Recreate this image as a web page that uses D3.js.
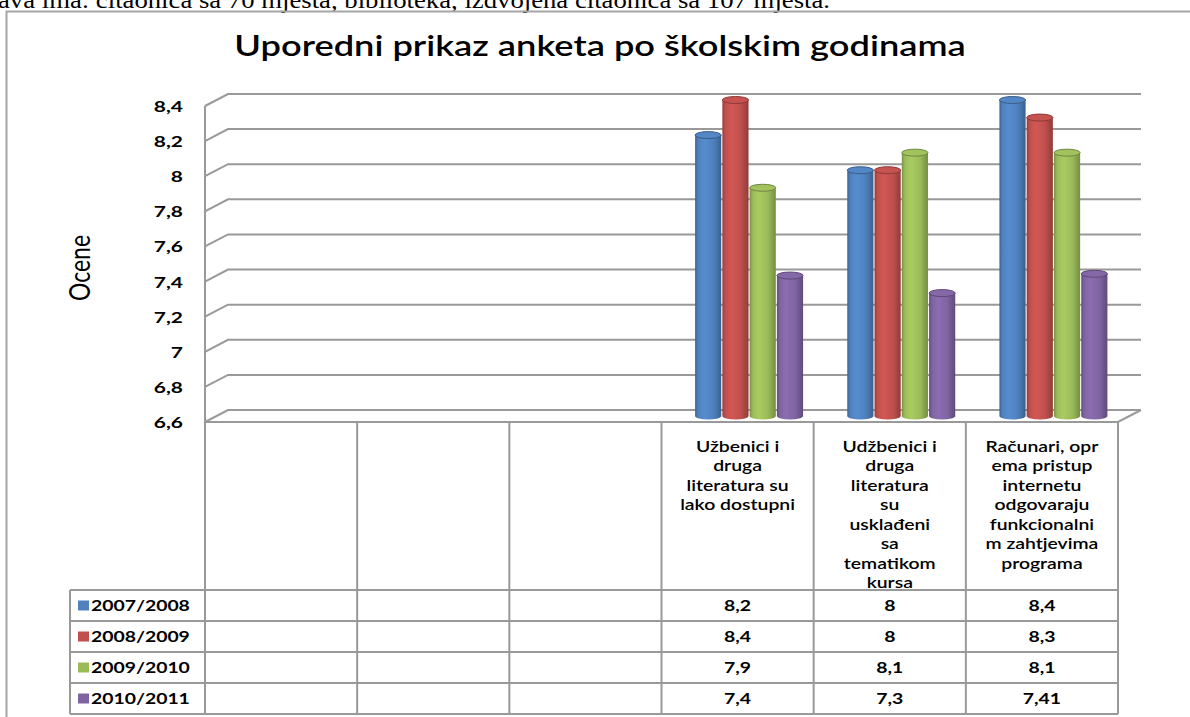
<!DOCTYPE html>
<html>
<head>
<meta charset="utf-8">
<script src="https://cdn.jsdelivr.net/npm/d3@7"></script>
<style>
  html, body { margin: 0; padding: 0; background: #fff; }
  svg { display: block; }
</style>
</head>
<body>
<script>
// Survey ratings by school year, shown as 3D-style cylinders with a data table below.
const categories = [
  "",
  "",
  "",
  "Užbenici i\ndruga\nliteratura su\nlako dostupni",
  "Udžbenici i\ndruga\nliteratura\nsu\nusklađeni\nsa\ntematikom\nkursa",
  "Računari, opr\nema pristup\ninternetu\nodgovaraju\nfunkcionalni\nm zahtjevima\nprograma"
];
const seriesNames = ["2007/2008", "2008/2009", "2009/2010", "2010/2011"];
const values2007 = [null, null, null, 8.2, 8, 8.4];
const values2008 = [null, null, null, 8.4, 8, 8.3];
const values2009 = [null, null, null, 7.9, 8.1, 8.1];
const values2010 = [null, null, null, 7.4, 7.3, 7.41];
const seriesColors = ["#4f81bd", "#c0504d", "#9bbb59", "#8064a2"];
const yTicks = [6.6, 6.8, 7, 7.2, 7.4, 7.6, 7.8, 8, 8.2, 8.4];
const titleText = "Uporedni prikaz anketa po školskim godinama";
const yAxisTitle = "Ocene";
const pageLine = "ava ima: čitaonica sa 70 mjesta, biblioteka, izdvojena čitaonica sa 107 mjesta.";

const seriesValues = [values2007, values2008, values2009, values2010];

const W = 1190, H = 717;
const svg = d3.select("body").append("svg")
  .attr("width", W).attr("height", H)
  .attr("viewBox", `0 0 ${W} ${H}`);

const locale = d3.formatLocale({ decimal: ",", thousands: ".", grouping: [3], currency: ["", ""] });
const fmt = locale.format(".2~f");

// Chart text is set in a slightly widened face
const SX = 1.25;
const FONT = "Lato, sans-serif";
function placeText(sel, x, y, sx = SX) {
  return sel.attr("transform", `translate(${x},${y}) scale(${sx},1)`);
}

// Plot geometry (front plane of the 3D box, and depth offset of the back wall)
const plotLeft = 205, plotRight = 1118, plotBottom = 422, plotTop = 106;
const DX = 23, DY = -12;
const gridColor = "#999999";

const y = d3.scaleLinear().domain([6.6, 8.4]).range([plotBottom, plotTop]);
const xCat = d3.scaleBand().domain(d3.range(categories.length)).range([plotLeft, plotRight]);
const xSer = d3.scaleBand().domain(seriesNames).range([-54, 54]).paddingInner(0.04);

const defs = svg.append("defs");

// Line of body text from the surrounding page, cut off by the top edge
svg.append("text")
  .attr("x", -2).attr("y", 8)
  .attr("font-family", "Liberation Serif, serif")
  .attr("font-size", 24)
  .attr("fill", "#000")
  .attr("textLength", 832).attr("lengthAdjust", "spacingAndGlyphs")
  .text(pageLine);

// Chart frame
svg.append("path")
  .attr("d", `M6.5,${H} L6.5,11.5 L${W},11.5`)
  .attr("fill", "none").attr("stroke", "#a6a6a6").attr("stroke-width", 2);

// Title
placeText(svg.append("text"), 600, 56)
  .attr("text-anchor", "middle")
  .attr("font-family", FONT)
  .attr("font-size", 29)
  .attr("font-weight", 600)
  .attr("fill", "#000")
  .text(titleText);

// Gridlines across side wall and back wall
const grid = svg.append("g").attr("fill", "none").attr("stroke", gridColor).attr("stroke-width", 2);
grid.selectAll("path.grid").data(yTicks).join("path")
  .attr("class", "grid")
  .attr("d", t => `M${plotLeft},${y(t)} L${plotLeft + DX},${y(t) + DY} L${plotRight + DX},${y(t) + DY}`);

// Floor front edge and right side
grid.append("path")
  .attr("d", `M${plotLeft},${plotBottom} L${plotRight},${plotBottom} L${plotRight + DX},${plotBottom + DY}`);

// Y axis labels
const yAxis = d3.axisLeft(y).tickValues(yTicks).tickFormat(fmt).tickSize(0).tickPadding(0);
const yAxisG = svg.append("g").attr("transform", `translate(${plotLeft - 22},0)`).call(yAxis);
yAxisG.select(".domain").remove();
yAxisG.selectAll(".tick text")
  .attr("x", null).attr("dy", null)
  .attr("font-family", FONT)
  .attr("font-size", 15.5)
  .attr("font-weight", 700)
  .attr("fill", "#000")
  .attr("text-anchor", "end")
  .attr("transform", `translate(0,5.5) scale(1.35,1)`);

svg.append("text")
  .attr("transform", `translate(90,268) scale(1.25,1) rotate(-90)`)
  .attr("text-anchor", "middle")
  .attr("font-family", FONT)
  .attr("font-size", 23)
  .attr("fill", "#000")
  .text(yAxisTitle);

// Cylinder shading gradients
seriesColors.forEach((c, i) => {
  const base = d3.color(c);
  const g = defs.append("linearGradient").attr("id", `cyl${i}`)
    .attr("x1", 0).attr("x2", 1).attr("y1", 0).attr("y2", 0);
  g.append("stop").attr("offset", 0).attr("stop-color", base.darker(0.7));
  g.append("stop").attr("offset", 0.12).attr("stop-color", base);
  g.append("stop").attr("offset", 0.35).attr("stop-color", base.brighter(0.25));
  g.append("stop").attr("offset", 0.7).attr("stop-color", base);
  g.append("stop").attr("offset", 1).attr("stop-color", base.darker(0.8));
});

// Bars
const bars = [];
seriesValues.forEach((vals, s) => {
  vals.forEach((v, i) => {
    if (v == null) return;
    bars.push({ s, i, v });
  });
});
const ry = 3.5;
const barG = svg.append("g");
const cyl = barG.selectAll("g.cyl").data(bars).join("g").attr("class", "cyl");
cyl.each(function (d) {
  const g = d3.select(this);
  const w = xSer.bandwidth();
  const left = xCat(d.i) + xCat.bandwidth() / 2 + DX / 2 + xSer(seriesNames[d.s]);
  const cx = left + w / 2;
  const yt = y(d.v) + DY / 2;
  const yb = y(6.6) + DY / 2;
  const col = d3.color(seriesColors[d.s]);
  g.append("path")
    .attr("d", `M${left},${yt} L${left},${yb} A${w / 2},${ry} 0 0 0 ${left + w},${yb} L${left + w},${yt} Z`)
    .attr("fill", `url(#cyl${d.s})`);
  g.append("ellipse")
    .attr("cx", cx).attr("cy", yt).attr("rx", w / 2).attr("ry", ry)
    .attr("fill", col.brighter(0.1))
    .attr("stroke", col.darker(0.9)).attr("stroke-width", 1);
});

// Data table
const rowH = 31;
const headerBottom = 590;
const tableBottom = headerBottom + rowH * seriesNames.length;
const legendLeft = 70;
const tbl = svg.append("g").attr("fill", "none").attr("stroke", gridColor).attr("stroke-width", 2);
const colEdges = d3.range(categories.length + 1).map(k => plotLeft + k * xCat.bandwidth());
tbl.selectAll("line.col").data(colEdges).join("line")
  .attr("class", "col")
  .attr("x1", d => d).attr("x2", d => d)
  .attr("y1", (d, k) => k === 0 ? y(8.4) : plotBottom).attr("y2", tableBottom);
tbl.selectAll("line.row").data(d3.range(seriesNames.length + 1)).join("line")
  .attr("class", "row")
  .attr("x1", legendLeft).attr("x2", plotRight)
  .attr("y1", r => headerBottom + r * rowH).attr("y2", r => headerBottom + r * rowH);
tbl.append("line")
  .attr("x1", legendLeft).attr("x2", legendLeft)
  .attr("y1", headerBottom).attr("y2", tableBottom);

// Category headers
const header = svg.append("g")
  .attr("font-family", FONT)
  .attr("font-size", 15.5)
  .attr("font-weight", 600)
  .attr("fill", "#000")
  .attr("text-anchor", "middle");
categories.forEach((c, i) => {
  if (!c) return;
  const t = placeText(header.append("text"), xCat(i) + xCat.bandwidth() / 2, 452);
  c.split("\n").forEach((line, k) => {
    t.append("tspan")
      .attr("x", 0)
      .attr("dy", k === 0 ? 0 : 19.5)
      .text(line);
  });
});

// Legend keys and values
const rows = svg.append("g")
  .attr("font-family", FONT)
  .attr("font-size", 15.5)
  .attr("font-weight", 700)
  .attr("fill", "#000");
seriesNames.forEach((name, s) => {
  const cy = headerBottom + s * rowH + rowH / 2;
  rows.append("rect")
    .attr("x", 78).attr("y", cy - 5).attr("width", 11).attr("height", 10)
    .attr("fill", seriesColors[s]);
  placeText(rows.append("text"), 91, cy + 5.5)
    .text(name);
  seriesValues[s].forEach((v, i) => {
    if (v == null) return;
    placeText(rows.append("text"), xCat(i) + xCat.bandwidth() / 2, cy + 5.5)
      .attr("text-anchor", "middle")
      .text(fmt(v));
  });
});
</script>
</body>
</html>
